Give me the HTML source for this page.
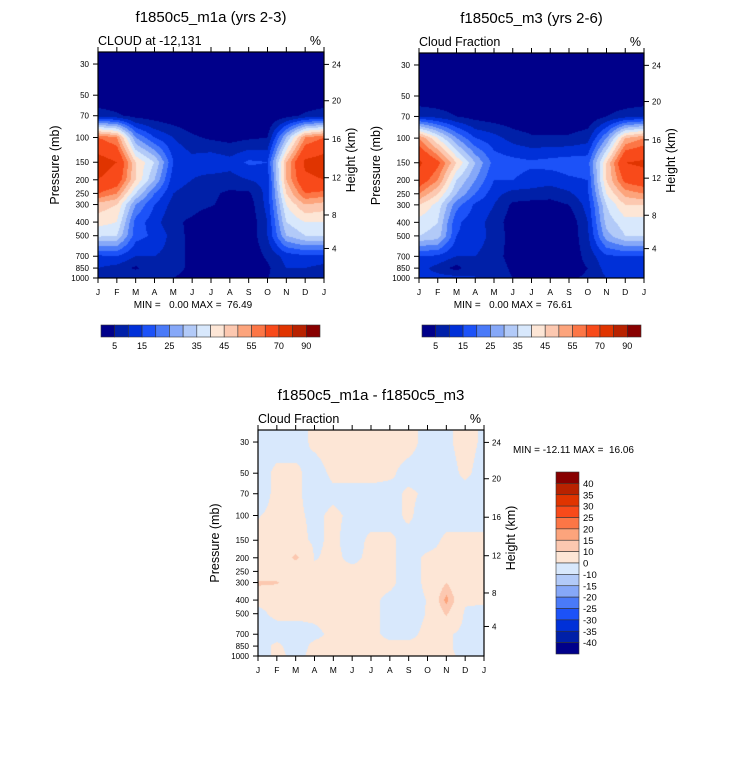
<!DOCTYPE html>
<html><head><meta charset="utf-8">
<style>
html,body{margin:0;padding:0;background:#fff;}
body{width:733px;height:766px;position:relative;overflow:hidden;font-family:"Liberation Sans",sans-serif;color:#000;}
canvas{position:absolute;}
svg{position:absolute;left:0;top:0;}
</style></head>
<body>
<canvas id="c1" width="226" height="226" style="left:98px;top:52px"></canvas>
<canvas id="c2" width="225" height="225" style="left:419px;top:53px"></canvas>
<canvas id="c3" width="226" height="226" style="left:258px;top:430px"></canvas>
<svg id="ov" width="733" height="766"></svg>
<script>
// ---- data ----
const months = ["J","F","M","A","M","J","J","A","S","O","N","D","J"];
const pressures = [30,50,70,100,150,200,250,300,400,500,700,850,1000];
const pressureTicks = [30,50,70,100,150,200,250,300,400,500,700,850,1000];
const heightTicks = [24,20,16,12,8,4];
const levelsCloud = [5,10,15,20,25,30,35,40,45,50,55,60,70,80,90];
const cloudTickLabels = ["5","15","25","35","45","55","70","90"];
const levelsDiff = [-40,-35,-30,-25,-20,-15,-10,0,10,15,20,25,30,35,40];
const diffTickLabels = ["40","35","30","25","20","15","10","0","-10","-15","-20","-25","-30","-35","-40"];
const palette = ["#00008a","#0020a8","#0030d8","#1c52f8","#4a7af8","#86a8f8","#b2caf8","#d8e8fc","#fde6d6","#fcc8b0","#fca47c","#fc7646","#f84a1a","#e03400","#b82200","#880000"];

const cloudM1a = [
 [0,0,0,0,0,0,0,0,0,0,0,0,0],
 [0,0,0,0,0,0,0,0,0,0,0,0,0],
 [8,6,3,2,1,0,0,0,0,0,3,6,8],
 [60,55,25,15,10,6,4,3,4,5,30,55,60],
 [75,70,45,35,15,12,14,12,16,15,50,72,75],
 [70,65,45,30,12,10,8,8,10,12,50,68,70],
 [60,55,35,20,10,8,6,4,4,12,45,60,58],
 [48,45,25,15,8,7,5.5,3,2,12,40,50,48],
 [42,40,18,12,6,4,1,1,1,10,35,40,40],
 [36,35,17,14,8,3,2,1,1,10,30,35,35],
 [14,15,10,10,8,3,2,1,1,6,12,14,14],
 [10,8,4,9,8,3,1,1,1,4,10,10,8],
 [10,10,10,6,5,2,1,1,1,5,7,8,10]
];
const cloudM3 = [
 [0,0,0,0,0,0,0,0,0,0,0,0,0],
 [0,0,0,0,0,0,0,0,0,0,0,0,0],
 [10,8,5,3,2,1,0,0,0,1,5,8,10],
 [55,40,25,15,12,8,6,6,6,8,25,50,55],
 [72,62,45,30,18,17,16,17,18,18,45,70,72],
 [65,55,35,25,15,15,13,12,14,15,45,62,65],
 [55,45,30,20,12,8,8,7,9,14,40,52,55],
 [45,38,22,14,10,4,3,3,5,12,35,45,45],
 [38,35,16,12,8,2,1,1,1,10,32,38,38],
 [35,33,15,13,8,3,1,1,1,9,28,35,35],
 [15,14,10,10,7,3,2,1,1,7,14,15,15],
 [12,8,3,10,8,4,2,2,2,5,12,12,12],
 [12,12,12,10,8,5,4,4,4,6,10,12,12]
];
const cloudDiff = [
 [-2,-2,-2,1,2,2,2,2,2,-2,-1,2,-1],
 [-2,1,1,-2,1,2,2,1,-2,-2,-2,1,-2],
 [-2,1,1,-2,-1,-2,-2,-2,1,-1,-2,-2,-2],
 [-0.2,1,1,-1,1,-1,-2,-2,1,-3,-2,-2,-2],
 [1,1,2,-1,1,-2,1,1,-2,-2,1,1,1],
 [1,1,12,-0.3,1,-1,1,1,-2,1,1,1,1],
 [1,1,2,1,1,1,1,1,-2,1,1,1,1],
 [12,11,1,1,1,1,1,1,-2,1,10,1,1],
 [1,1,1,1,1,1,1,-1,-2,0.2,17,1,1],
 [-1,1,1,1,1,1,1,-1,-2,0.3,11,-1,-2],
 [-2,-2,-2,-1,1,1,1,-1,-1,1,1,-2,-2],
 [-2,1,-2,1,1,1,1,1,1,1,1,-2,-2],
 [-2,1,-1,1,1,1,1,1,1,1,1,-1,-2]
];

// ---- scales ----
const P_BOT=1000, PX_PER_LN=61.02;
function pToY(p,h){ return h - PX_PER_LN*Math.log(P_BOT/p)*(h/226); }
function yToP(y,h){ return P_BOT*Math.exp(-(h-y)/(PX_PER_LN*h/226)); }
function monthToX(m,w){ return m/12*w; }
function zToP(z){ z*=1000;
  if(z<=11000) return 1013.25*Math.pow(1-2.2558e-5*z,5.256);
  if(z<=20000) return 226.32*Math.exp(-(z-11000)/6341.6);
  return 54.75*Math.pow(1+(z-20000)/227500,-34.16);
}
function bandIndex(v,levels){ let i=0; while(i<levels.length && v>=levels[i]) i++; return i; }
function hex(c){ return [parseInt(c.substr(1,2),16),parseInt(c.substr(3,2),16),parseInt(c.substr(5,2),16)]; }
const rgb = palette.map(hex);

function drawField(id,data,levels){
  const cv=document.getElementById(id), w=cv.width, h=cv.height, ctx=cv.getContext('2d');
  const img=ctx.createImageData(w,h), lp=pressures.map(p=>Math.log(p));
  for(let y=0;y<h;y++){
    let lnp=Math.log(yToP(y+0.5,h)), r=0, fy;
    if(lnp<=lp[0]){r=0;fy=0;} else if(lnp>=lp[lp.length-1]){r=lp.length-2;fy=1;}
    else { while(lnp>lp[r+1]) r++; fy=(lnp-lp[r])/(lp[r+1]-lp[r]); }
    for(let x=0;x<w;x++){
      let m=(x+0.5)/w*12, c=Math.min(11,Math.floor(m)), fx=m-c;
      let v=(data[r][c]*(1-fx)+data[r][c+1]*fx)*(1-fy)+(data[r+1][c]*(1-fx)+data[r+1][c+1]*fx)*fy;
      let col=rgb[bandIndex(v,levels)], k=(y*w+x)*4;
      img.data[k]=col[0];img.data[k+1]=col[1];img.data[k+2]=col[2];img.data[k+3]=255;
    }
  }
  ctx.putImageData(img,0,0);
}
drawField('c1',cloudM1a,levelsCloud);
drawField('c2',cloudM3,levelsCloud);
drawField('c3',cloudDiff,levelsDiff);

// ---- overlay ----
const ov=document.getElementById('ov'), NS="http://www.w3.org/2000/svg";
function el(tag,attrs,txt){ const e=document.createElementNS(NS,tag); for(const k in attrs) e.setAttribute(k,attrs[k]); if(txt!==undefined) e.textContent=txt; ov.appendChild(e); return e; }
function text(x,y,s,size,anchor,name,extra){
  const t=el('text',Object.assign({x:x,y:y,'font-size':size,'text-anchor':anchor||'start','font-family':'Liberation Sans, sans-serif'},extra||{}),s);
  
  
  return t;
}
function panel(L,T,W,H,title,sub,minmax,mmX,mmY,prefix){
  const f=el('rect',{x:L,y:T,width:W,height:H,fill:'none',stroke:'#000','stroke-width':1.2});
  
  
  text(L+W/2,T-30,title,15,'middle',prefix+'-title');
  text(L,T-7,sub,12.5,'start',prefix+'-subtitle');
  text(L+W-3,T-7,"%",12.5,'end',prefix+'-units');
  months.forEach((m,i)=>{
    const x=L+monthToX(i,W);
    el('line',{x1:x,y1:T,x2:x,y2:T-5,stroke:'#000'});
    el('line',{x1:x,y1:T+H,x2:x,y2:T+H+5,stroke:'#000'});
    text(x,T+H+17,m,8.5,'middle',prefix+'-month-label');
  });
  pressureTicks.forEach(p=>{
    const y=T+pToY(p,H);
    el('line',{x1:L,y1:y,x2:L-5,y2:y,stroke:'#000'});
    text(L-9,y+3,String(p),8,'end',prefix+'-pressure-tick');
  });
  heightTicks.forEach(z=>{
    const y=T+pToY(zToP(z),H);
    el('line',{x1:L+W,y1:y,x2:L+W+5,y2:y,stroke:'#000'});
    text(L+W+8,y+3,String(z),8,'start',prefix+'-height-tick');
  });
  text(0,0,"Pressure (mb)",12.5,'middle',prefix+'-y-axis-title',{transform:`translate(${L-39},${T+H/2}) rotate(-90)`});
  text(0,0,"Height (km)",12.5,'middle',prefix+'-y2-axis-title',{transform:`translate(${L+W+31},${T+H/2-5}) rotate(-90)`});
  const t=text(mmX,mmY,minmax,10,prefix==='diff'?'start':'middle',prefix+'-min-max');
  t.style.whiteSpace='pre';
}
panel(98,52,226,226,"f1850c5_m1a (yrs 2-3)","CLOUD at -12,131","MIN =   0.00 MAX =  76.49",193,308,'m1a');
panel(419,53,225,225,"f1850c5_m3 (yrs 2-6)","Cloud Fraction","MIN =   0.00 MAX =  76.61",513,308,'m3');
panel(258,430,226,226,"f1850c5_m1a - f1850c5_m3","Cloud Fraction","MIN = -12.11 MAX =  16.06",513,453,'diff');

function hbar(L,T,W,H,prefix){
  const bw=W/palette.length;
  palette.forEach((c,i)=>{
    const r=el('rect',{x:L+i*bw,y:T,width:bw,height:H,fill:c,stroke:'#333','stroke-width':0.6});
    
    
  });
  cloudTickLabels.forEach((s,j)=>{ text(L+(2*j+1)*bw,T+H+12,s,9,'middle',prefix+'-colorbar-label'); });
}
hbar(101,325,219,12,'m1a');
hbar(422,325,219,12,'m3');
(function(){
  const L=556,T=472,W=23,H=182,bh=H/palette.length;
  palette.slice().reverse().forEach((c,i)=>{
    const r=el('rect',{x:L,y:T+i*bh,width:W,height:bh,fill:c,stroke:'#333','stroke-width':0.6});
    
    
  });
  diffTickLabels.forEach((s,i)=>{ text(L+W+4,T+(i+1)*bh+3.5,s,9.5,'start','diff-colorbar-label'); });
})();
</script>
</body></html>
